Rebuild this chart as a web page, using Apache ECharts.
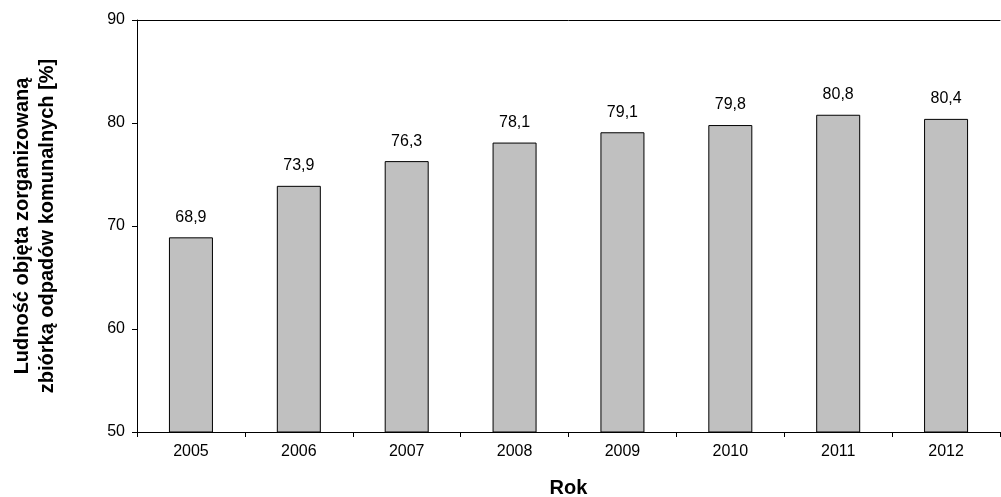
<!DOCTYPE html>
<html>
<head>
    <meta charset="utf-8">
    <title>index</title>
    <script src="https://cdn.jsdelivr.net/npm/echarts@6/dist/echarts.min.js"></script>
    <style>
        html, body { margin: 0; padding: 0; background: #fff; }
        #chart { width: 1001px; height: 497px; }
    </style>
</head>
<body>
    <div id="chart"></div>
<script>
    var years = ['2005', '2006', '2007', '2008', '2009', '2010', '2011', '2012'];
    var values = [68.9, 73.9, 76.3, 78.1, 79.1, 79.8, 80.8, 80.4];

    var font = 'Liberation Sans, Arial, sans-serif';
    var chart = echarts.init(document.getElementById('chart'));
    chart.setOption({
        animation: false,
        grid: { left: 137, right: 1, top: 20, bottom: 65, containLabel: false, outerBoundsMode: 'none' },
        xAxis: [{
            type: 'category',
            data: years,
            name: 'Rok',
            nameLocation: 'middle',
            nameGap: 46,
            nameTextStyle: { fontFamily: font, fontSize: 20, fontWeight: 'bold', color: '#000' },
            axisLine: { lineStyle: { color: '#000' } },
            axisTick: { show: true, length: 5, lineStyle: { color: '#000' } },
            axisLabel: { fontFamily: font, fontSize: 16, color: '#000', margin: 12 }
        }, {
            type: 'category',
            data: years,
            position: 'top',
            axisLine: { show: true, lineStyle: { color: '#000' } },
            axisTick: { show: false },
            axisLabel: { show: false }
        }],
        yAxis: {
            type: 'value',
            min: 50,
            max: 90,
            interval: 10,
            name: 'Ludność objęta zorganizowaną\nzbiórką odpadów komunalnych [%]',
            nameLocation: 'middle',
            nameGap: 77,
            nameTextStyle: { fontFamily: font, fontSize: 20, fontWeight: 'bold', color: '#000', lineHeight: 25 },
            axisLine: { show: true, lineStyle: { color: '#000' } },
            axisTick: { show: true, length: 5, lineStyle: { color: '#000' } },
            axisLabel: { fontFamily: font, fontSize: 16, color: '#000', margin: 12 },
            splitLine: { show: false }
        },
        series: [{
            type: 'bar',
            data: values,
            barWidth: 44,
            itemStyle: { color: '#c0c0c0', borderColor: '#000', borderWidth: 1 },
            label: {
                show: true,
                position: 'top',
                distance: 12,
                fontFamily: font,
                fontSize: 16,
                color: '#000',
                formatter: function (p) { return p.value.toFixed(1).replace('.', ','); }
            }
        }]
    });
</script>
</body>
</html>
